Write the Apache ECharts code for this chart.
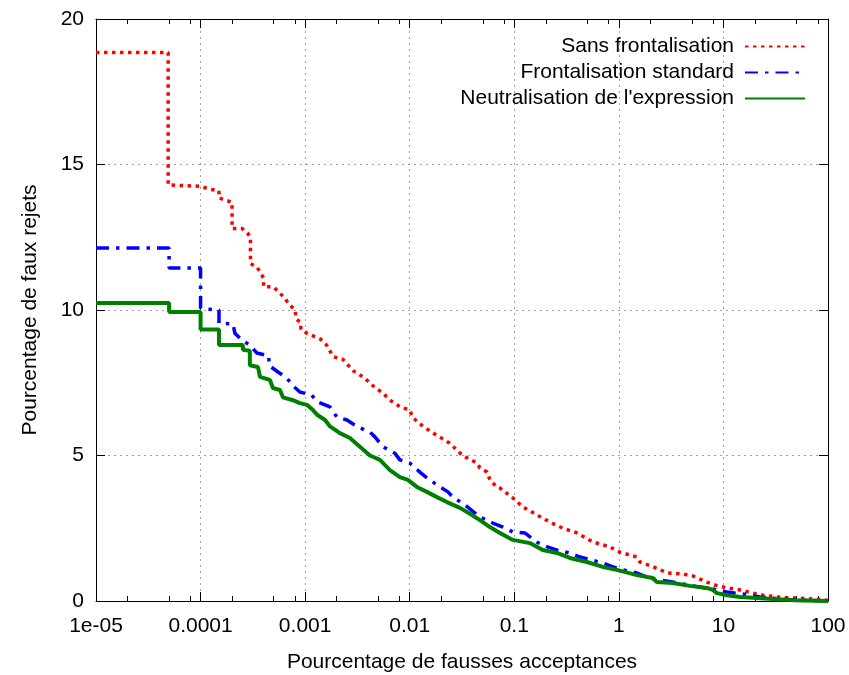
<!DOCTYPE html>
<html>
<head>
<meta charset="utf-8">
<script src="https://cdn.jsdelivr.net/npm/echarts@6/dist/echarts.min.js"></script>
<style>
  html, body { margin: 0; padding: 0; background: #fff; }
  #chart { width: 849px; height: 675px; }
</style>
</head>
<body>
<div id="chart"></div>
<script>
// Series data: [fausses acceptances (%), faux rejets (%)]
const sansFrontalisation = [
  [1e-5, 18.85], [4.9e-5, 18.85], [4.9e-5, 14.3], [1e-4, 14.25], [1.23e-4, 14.15], [1.5e-4, 14.1],
  [1.5e-4, 13.85], [2e-4, 13.7], [2e-4, 12.8], [2.5e-4, 12.8], [2.8e-4, 12.65], [3e-4, 12.5],
  [3e-4, 11.6], [3.5e-4, 11.45], [4e-4, 11.1], [4e-4, 10.8], [4.9e-4, 10.8], [5.5e-4, 10.65],
  [6.4e-4, 10.4], [7e-4, 10.2], [8e-4, 10.0], [8.2e-4, 9.7], [9.1e-4, 9.55], [9.1e-4, 9.35],
  [1.04e-3, 9.2], [1.4e-3, 9.0], [1.6e-3, 8.8], [1.85e-3, 8.4], [2.3e-3, 8.3], [2.9e-3, 7.9],
  [3.6e-3, 7.7], [4.6e-3, 7.35], [5.5e-3, 7.15], [6.5e-3, 6.9], [8.1e-3, 6.67], [0.01, 6.56],
  [0.0107, 6.3], [0.0134, 6.0], [0.018, 5.7], [0.024, 5.43], [0.032, 5.0], [0.044, 4.74],
  [0.047, 4.57], [0.055, 4.43], [0.0585, 4.16], [0.068, 3.92], [0.073, 3.88], [0.097, 3.54],
  [0.121, 3.23], [0.164, 2.96], [0.219, 2.71], [0.292, 2.5], [0.397, 2.34], [0.564, 2.03],
  [0.82, 1.86], [1.02, 1.68], [1.49, 1.51], [1.59, 1.34], [2.11, 1.18], [2.94, 0.96],
  [4.09, 0.93], [5.1, 0.86], [6.93, 0.65], [8.27, 0.55], [10.8, 0.45], [14.4, 0.38],
  [19.1, 0.27], [23.8, 0.2], [34.6, 0.13], [50.3, 0.1], [71.6, 0.07], [97.5, 0.03], [100, 0.02]
];

const frontalisationStandard = [
  [1e-5, 12.13], [5e-5, 12.13], [5e-5, 11.44], [1e-4, 11.44], [1e-4, 10.07], [1.1e-4, 10.03],
  [1.5e-4, 10.0], [1.5e-4, 9.55], [2.04e-4, 9.52], [2.13e-4, 9.2], [2.5e-4, 8.95], [2.96e-4, 8.8],
  [3.46e-4, 8.52], [4.5e-4, 8.42], [4.5e-4, 8.1], [5.5e-4, 7.87], [6.7e-4, 7.66], [7.5e-4, 7.42],
  [8.9e-4, 7.18], [1.15e-3, 7.08], [1.32e-3, 6.84], [1.73e-3, 6.67], [2.01e-3, 6.32], [2.51e-3, 6.22],
  [3.13e-3, 6.0], [4.17e-3, 5.8], [4.65e-3, 5.64], [5.55e-3, 5.3], [7.2e-3, 5.08], [8.05e-3, 4.85],
  [0.01, 4.74], [0.0125, 4.43], [0.0146, 4.23], [0.0182, 3.99], [0.0232, 3.75], [0.0259, 3.57],
  [0.0337, 3.3], [0.0469, 2.89], [0.0624, 2.68], [0.0778, 2.54], [0.097, 2.37], [0.126, 2.34],
  [0.164, 2.03], [0.187, 1.92], [0.255, 1.75], [0.34, 1.65], [0.424, 1.51], [0.703, 1.31],
  [0.877, 1.17], [1.09, 1.07], [1.49, 0.96], [1.85, 0.82], [2.11, 0.76], [3.28, 0.65],
  [5.1, 0.52], [7.9, 0.41], [10.8, 0.31], [15.3, 0.24], [22.3, 0.14], [34.6, 0.07],
  [53.7, 0.03], [100, 0]
];

const neutralisationExpression = [
  [1e-5, 10.24], [5e-5, 10.24], [5e-5, 9.93], [1e-4, 9.93], [1e-4, 9.33], [1.5e-4, 9.33],
  [1.5e-4, 8.8], [2.54e-4, 8.8], [2.54e-4, 8.63], [2.96e-4, 8.6], [2.96e-4, 8.1], [3.54e-4, 8.04],
  [3.7e-4, 7.7], [4.6e-4, 7.6], [4.92e-4, 7.32], [5.74e-4, 7.25], [6.14e-4, 7.0], [7.64e-4, 6.9],
  [8.9e-4, 6.8], [1.04e-3, 6.74], [1.19e-3, 6.56], [1.3e-3, 6.4], [1.55e-3, 6.22], [1.73e-3, 6.0],
  [2.15e-3, 5.77], [2.68e-3, 5.6], [3.34e-3, 5.3], [4.17e-3, 5.0], [5.19e-3, 4.85], [6.47e-3, 4.5],
  [8.05e-3, 4.26], [9.6e-3, 4.16], [0.0117, 3.92], [0.0146, 3.75], [0.0182, 3.57], [0.0227, 3.4],
  [0.0302, 3.2], [0.0377, 3.0], [0.0469, 2.78], [0.0585, 2.54], [0.0728, 2.34], [0.097, 2.1],
  [0.141, 1.99], [0.187, 1.75], [0.255, 1.65], [0.34, 1.48], [0.494, 1.34], [0.703, 1.17],
  [0.957, 1.07], [1.49, 0.89], [2.11, 0.79], [2.31, 0.65], [3.28, 0.62], [4.77, 0.52],
  [6.93, 0.45], [7.92, 0.38], [8.65, 0.27], [10.8, 0.2], [14.4, 0.14], [20.8, 0.1],
  [29.7, 0.07], [46, 0.03], [100, 0]
];

const seriesNames = ['Sans frontalisation', 'Frontalisation standard', "Neutralisation de l'expression"];

// Axis ticks
const xTickValues = [1e-5, 1e-4, 1e-3, 0.01, 0.1, 1, 10, 100];
const xTickLabels = ['1e-05', '0.0001', '0.001', '0.01', '0.1', '1', '10', '100'];
const xMinorMultipliers = [2, 5, 8];
const yTickValues = [0, 5, 10, 15, 20];

const xMinorTicks = [];
xTickValues.slice(0, -1).forEach(d => xMinorMultipliers.forEach(m => xMinorTicks.push(d * m)));

const FONT = '"Liberation Sans", Arial, sans-serif';
const FONT_SIZE = 21;

const chart = echarts.init(document.getElementById('chart'));

const gridLine = { show: true, lineStyle: { color: '#a0a0a0', width: 1, type: [2, 4] } };
const blackLine = { show: true, onZero: false, lineStyle: { color: '#000', width: 1 } };
const majorTick = { show: true, inside: true, length: 9, lineStyle: { color: '#000', width: 1 } };

// overlay axes carrying only the minor ticks (log10 space)
const minorAxis = (position) => ({
  type: 'value',
  position,
  min: Math.log10(xTickValues[0]),
  max: Math.log10(xTickValues[xTickValues.length - 1]),
  axisLine: { show: false, onZero: false },
  axisLabel: { show: false },
  splitLine: { show: false },
  axisTick: {
    show: true, inside: true, length: 5,
    lineStyle: { color: '#000', width: 1 },
    customValues: xMinorTicks.map(v => Math.log10(v))
  }
});

const labelFor = (v) => {
  const i = xTickValues.findIndex(t => Math.abs(Math.log10(t) - Math.log10(v)) < 1e-6);
  return i >= 0 ? xTickLabels[i] : '';
};

chart.setOption({
  animation: false,
  backgroundColor: '#fff',
  textStyle: { fontFamily: FONT },
  grid: { left: 96, right: 21, top: 19, bottom: 74, containLabel: false, outerBoundsMode: 'none' },
  legend: {
    data: seriesNames,
    orient: 'vertical',
    right: 38,
    top: 31,
    align: 'right',
    itemWidth: 60,
    itemHeight: 18,
    itemGap: 5,
    itemStyle: { opacity: 0 },
    textStyle: { fontSize: FONT_SIZE, color: '#000', fontFamily: FONT, padding: [0, 6, 0, 0] }
  },
  xAxis: [
    {
      type: 'log',
      logBase: 10,
      min: xTickValues[0],
      max: xTickValues[xTickValues.length - 1],
      interval: 1,
      position: 'bottom',
      name: 'Pourcentage de fausses acceptances',
      nameLocation: 'middle',
      nameGap: 51,
      nameTextStyle: { fontSize: FONT_SIZE, color: '#000', fontFamily: FONT },
      axisLine: blackLine,
      axisTick: majorTick,
      axisLabel: { fontSize: FONT_SIZE, color: '#000', margin: 15, formatter: labelFor, showMinLabel: true, showMaxLabel: true },
      splitLine: gridLine
    },
    {
      type: 'log',
      logBase: 10,
      min: xTickValues[0],
      max: xTickValues[xTickValues.length - 1],
      interval: 1,
      position: 'top',
      axisLine: blackLine,
      axisTick: majorTick,
      axisLabel: { show: false },
      splitLine: { show: false }
    },
    minorAxis('bottom'),
    minorAxis('top')
  ],
  yAxis: [
    {
      type: 'value',
      min: yTickValues[0],
      max: yTickValues[yTickValues.length - 1],
      interval: 5,
      position: 'left',
      name: 'Pourcentage de faux rejets',
      nameLocation: 'middle',
      nameGap: 55,
      nameTextStyle: { fontSize: FONT_SIZE, color: '#000', fontFamily: FONT },
      axisLine: blackLine,
      axisTick: majorTick,
      axisLabel: { fontSize: FONT_SIZE, color: '#000', margin: 12 },
      splitLine: gridLine
    },
    {
      type: 'value',
      min: yTickValues[0],
      max: yTickValues[yTickValues.length - 1],
      interval: 5,
      position: 'right',
      axisLine: blackLine,
      axisTick: majorTick,
      axisLabel: { show: false },
      splitLine: { show: false }
    }
  ],
  series: [
    {
      name: seriesNames[0],
      type: 'line',
      data: sansFrontalisation,
      symbol: 'none',
      color: '#ff0000',
      lineStyle: { color: '#ff0000', width: 3.5, type: [3.5, 4.5] }
    },
    {
      name: seriesNames[1],
      type: 'line',
      data: frontalisationStandard,
      symbol: 'none',
      color: '#0000ff',
      lineStyle: { color: '#0000ff', width: 3.5, type: [13, 7, 3.5, 7] }
    },
    {
      name: seriesNames[2],
      type: 'line',
      data: neutralisationExpression,
      symbol: 'none',
      color: '#008000',
      lineStyle: { color: '#008000', width: 4 }
    }
  ]
});
</script>
</body>
</html>
